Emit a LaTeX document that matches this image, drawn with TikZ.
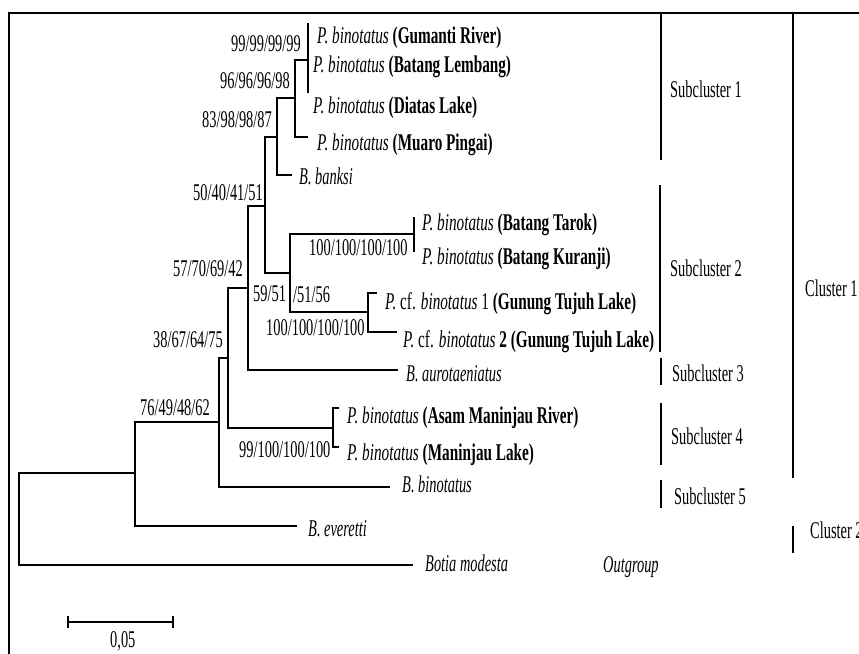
\documentclass[tikz,border=0pt]{standalone}
\usepackage{fontspec}
\setmainfont{Liberation Serif}
\usepackage{graphicx}
\newcommand\sq[1]{\scalebox{0.6}[1]{#1}}
\newcommand\sqt[1]{\scalebox{0.635}[1]{#1}}
\begin{document}
\begin{tikzpicture}[x=1pt,y=-1pt,
  br/.style={line width=1.3pt},
  bar/.style={line width=1.3pt},
  txt/.style={inner sep=0pt, anchor=base west, font=\fontsize{24}{28}\selectfont}]
\useasboundingbox (0,0) rectangle (859,653);
\clip (0,0) rectangle (859,653);
\fill[white] (0,0) rectangle (859,653);
\draw[line width=2.2pt] (9,700) -- (9,13) -- (900,13);

% internal nodes
\coordinate (root) at (19,519);
\coordinate (nA) at (135,473);
\coordinate (nB) at (219,422);
\coordinate (nC) at (228,358);
\coordinate (nM) at (333,428);
\coordinate (nD) at (248,288);
\coordinate (nE) at (265,206);
\coordinate (nF) at (277,137);
\coordinate (nG) at (295,98);
\coordinate (nH) at (308,60);
\coordinate (nI) at (290,273);
\coordinate (nJ) at (414,234);
\coordinate (nK) at (368,312);
% tips (branch ends)
\coordinate (e1) at (308,23);
\coordinate (e2) at (308,93);
\coordinate (e4) at (308,137);
\coordinate (e5) at (292,175);
\coordinate (e6) at (414,217);
\coordinate (e7) at (414,252);
\coordinate (e8) at (377,293);
\coordinate (e9) at (397,332);
\coordinate (e10) at (398,370);
\coordinate (e11) at (339,408);
\coordinate (e12) at (339,447);
\coordinate (e13) at (390,487);
\coordinate (e14) at (297,526);
\coordinate (e15) at (413,565);

% branches
\draw[br] (root) |- (nA);
\draw[br] (root) |- (e15);
\draw[br] (nA) |- (nB);
\draw[br] (nA) |- (e14);
\draw[br] (nB) |- (nC);
\draw[br] (nB) |- (e13);
\draw[br] (nC) |- (nD);
\draw[br] (nC) |- (nM);
\draw[br] (nM) |- (e11);
\draw[br] (nM) |- (e12);
\draw[br] (nD) |- (nE);
\draw[br] (nD) |- (e10);
\draw[br] (nE) |- (nF);
\draw[br] (nE) |- (nI);
\draw[br] (nF) |- (nG);
\draw[br] (nF) |- (e5);
\draw[br] (nG) |- (nH);
\draw[br] (nG) |- (e4);
\draw[br] (nH) -- (e1);
\draw[br] (nH) -- (e2);
\draw[br] (nI) |- (nJ);
\draw[br] (nI) |- (nK);
\draw[br] (nJ) -- (e6);
\draw[br] (nJ) -- (e7);
\draw[br] (nK) |- (e8);
\draw[br] (nK) |- (e9);

% tip labels
\node[txt] (t1) at (317,43) {\sqt{\textit{P. binotatus} \textbf{(Gumanti River)}}};
\node[txt] (t2) at (313,72) {\sqt{\textit{P. binotatus} \textbf{(Batang Lembang)}}};
\node[txt] (t3) at (313,113) {\sqt{\textit{P. binotatus} \textbf{(Diatas Lake)}}};
\node[txt] (t4) at (317,150) {\sqt{\textit{P. binotatus} \textbf{(Muaro Pingai)}}};
\node[txt] (t5) at (299,184) {\sq{\textit{B. banksi}}};
\node[txt] (t6) at (422,230) {\sqt{\textit{P. binotatus} \textbf{(Batang Tarok)}}};
\node[txt] (t7) at (422,264) {\sqt{\textit{P. binotatus} \textbf{(Batang Kuranji)}}};
\node[txt] (t8) at (385,309) {\sqt{\textit{P.} cf. \textit{binotatus} 1 \textbf{(Gunung Tujuh Lake)}}};
\node[txt] (t9) at (403,347) {\sqt{\textit{P.} cf. \textit{binotatus} \textbf{2 (Gunung Tujuh Lake)}}};
\node[txt] (t10) at (406,381) {\sq{\textit{B. aurotaeniatus}}};
\node[txt] (t11) at (347,423) {\sqt{\textit{P. binotatus} \textbf{(Asam Maninjau River)}}};
\node[txt] (t12) at (347,460) {\sqt{\textit{P. binotatus} \textbf{(Maninjau Lake)}}};
\node[txt] (t13) at (402,492) {\sq{\textit{B. binotatus}}};
\node[txt] (t14) at (308,536) {\sq{\textit{B. everetti}}};
\node[txt] (t15) at (425,571) {\sq{\textit{Botia modesta}}};
\node[txt] (og) at (603,572) {\sq{\textit{Outgroup}}};

% support values
\node[txt] (s1) at (231,51) {\sq{99/99/99/99}};
\node[txt] (s2) at (220,88) {\sq{96/96/96/98}};
\node[txt] (s3) at (202,127) {\sq{83/98/98/87}};
\node[txt] (s4) at (193,200) {\sq{50/40/41/51}};
\node[txt] (s5) at (173,276) {\sq{57/70/69/42}};
\node[txt] (s6) at (253,301) {\sq{59/51}};
\node[txt] (s7) at (293,302) {\sq{/51/56}};
\node[txt] (s8) at (309,255) {\sq{100/100/100/100}};
\node[txt] (s9) at (266,335) {\sq{100/100/100/100}};
\node[txt] (s10) at (153,347) {\sq{38/67/64/75}};
\node[txt] (s11) at (140,415) {\sq{76/49/48/62}};
\node[txt] (s12) at (239,457) {\sq{99/100/100/100}};

% cluster bars
\draw[bar] (661,13) -- (661,160);
\draw[bar] (660,185) -- (660,352);
\draw[bar] (661,358) -- (661,385);
\draw[bar] (661,403) -- (661,465);
\draw[bar] (661,480) -- (661,508);
\draw[bar] (793,13) -- (793,478);
\draw[bar] (793,526) -- (793,553);
\node[txt] (c1) at (670,97) {\sq{Subcluster 1}};
\node[txt] (c2) at (670,276) {\sq{Subcluster 2}};
\node[txt] (c3) at (672,381) {\sq{Subcluster 3}};
\node[txt] (c4) at (671,444) {\sq{Subcluster 4}};
\node[txt] (c5) at (674,504) {\sq{Subcluster 5}};
\node[txt] (k1) at (805,296) {\sq{Cluster 1}};
\node[txt] (k2) at (810,538) {\sq{Cluster 2}};

% scale bar
\coordinate (sbL) at (68,622);
\coordinate (sbR) at (173,622);
\draw[br] (sbL) -- (sbR);
\draw[br] ([yshift=-6pt]sbL) -- ([yshift=6pt]sbL);
\draw[br] ([yshift=-6pt]sbR) -- ([yshift=6pt]sbR);
\node[txt] (sb) at (110,647) {\sq{0,05}};
\end{tikzpicture}
\end{document}
